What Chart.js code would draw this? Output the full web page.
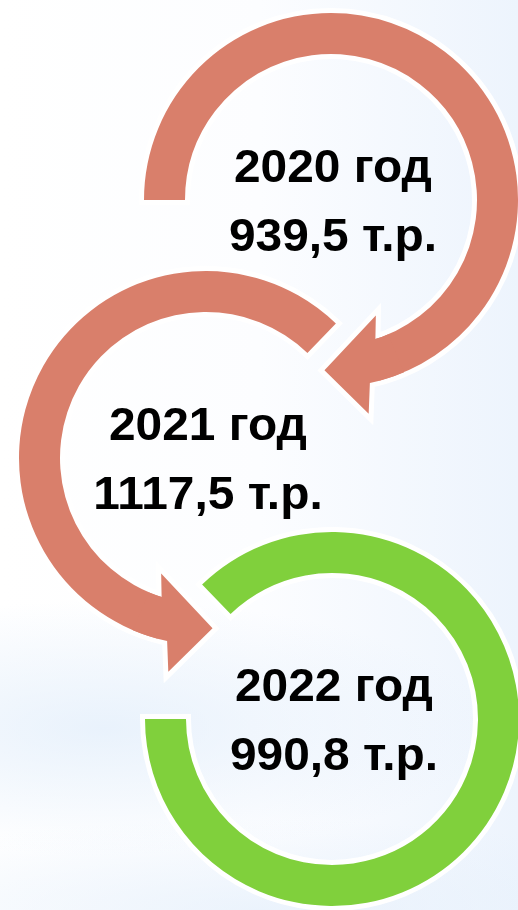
<!DOCTYPE html>
<html>
<head>
<meta charset="utf-8">
<script src="https://cdn.jsdelivr.net/npm/chart.js@4.4.1/dist/chart.umd.min.js"></script>
<style>
  html, body { margin: 0; padding: 0; }
  body {
    width: 518px; height: 910px; position: relative; overflow: hidden;
    background:
      radial-gradient(ellipse 75% 14% at 20% 80%, rgba(226,238,251,0.75), rgba(255,255,255,0) 100%),
      radial-gradient(ellipse 90% 10% at 50% 100%, rgba(228,239,251,0.7), rgba(255,255,255,0) 100%),
      linear-gradient(90deg, #ffffff 0%, #fcfdff 50%, #edf4fd 100%);
    font-family: "Liberation Sans", Arial, sans-serif;
  }
  canvas { position: absolute; left: 0; top: 0; }
  .label {
    position: absolute; width: 320px; text-align: center;
    font-weight: bold; font-size: 46px; line-height: 69px; color: #000;
    white-space: nowrap; transform: scaleX(1.04); transform-origin: 50% 50%;
  }
</style>
</head>
<body>
<canvas id="ring0" width="518" height="910"></canvas>
<canvas id="ring1" width="518" height="910"></canvas>
<canvas id="ring2" width="518" height="910"></canvas>
<script>
const years = ['2020 год', '2021 год', '2022 год'];
const amounts = [939.5, 1117.5, 990.8];
const unit = 'т.р.';

// where each ring sits on the page and which way it turns
const rings = [
  { cx: 331, cy: 200, rotation: 270, sweep: 255, color: '#D97F6B', arrow: 'end' },
  { cx: 206, cy: 458, rotation: 195, sweep: 209, color: '#D97F6B', arrow: 'start' },
  { cx: 332, cy: 719, rotation: 316, sweep: 314, color: '#80D03C', arrow: null }
];
const outerR = 187;
const innerR = 146;

const rad = d => d * Math.PI / 180;

function headPoints(el, at) {
  const s = at === 'end' ? 1 : -1;
  const base = at === 'end' ? el.endAngle : el.startAngle;
  const ri = el.innerRadius, ro = el.outerRadius;
  const p = (r, d) => [el.x + r * Math.cos(base + s * rad(d)), el.y + r * Math.sin(base + s * rad(d))];
  return {
    s: s, base: base, ri: ri, ro: ro,
    barbIn: p(ri - 22, -6.2),
    tip: p((ri + ro) / 2 + 4, 17.2),
    barbOut: p(ro + 30, 5)
  };
}

function outlinePath(ctx, el, at) {
  ctx.beginPath();
  if (!at) {
    ctx.arc(el.x, el.y, el.outerRadius, el.startAngle, el.endAngle);
    ctx.arc(el.x, el.y, el.innerRadius, el.endAngle, el.startAngle, true);
    ctx.closePath();
    return;
  }
  const h = headPoints(el, at);
  const other = at === 'end' ? el.startAngle : el.endAngle;
  ctx.arc(el.x, el.y, h.ro, other, h.base + h.s * rad(3), h.s < 0);
  ctx.lineTo(h.barbOut[0], h.barbOut[1]);
  ctx.lineTo(h.tip[0], h.tip[1]);
  ctx.lineTo(h.barbIn[0], h.barbIn[1]);
  ctx.arc(el.x, el.y, h.ri, h.base - h.s * rad(2.7), other, h.s > 0);
  ctx.closePath();
}

const ringDecor = {
  id: 'ringDecor',
  beforeDatasetsDraw(chart, args, opts) {
    const el = chart.getDatasetMeta(0).data[0];
    const ctx = chart.ctx;
    ctx.save();
    outlinePath(ctx, el, opts.arrow);
    ctx.lineWidth = 10;
    ctx.lineJoin = 'miter';
    ctx.strokeStyle = '#ffffff';
    ctx.stroke();
    ctx.restore();
  },
  afterDatasetsDraw(chart, args, opts) {
    if (!opts.arrow) return;
    const el = chart.getDatasetMeta(0).data[0];
    const h = headPoints(el, opts.arrow);
    const ctx = chart.ctx;
    ctx.save();
    ctx.beginPath();
    ctx.arc(el.x, el.y, h.ri, h.base - h.s * rad(8), h.base - h.s * rad(2.7), h.s < 0);
    ctx.lineTo(h.barbIn[0], h.barbIn[1]);
    ctx.lineTo(h.tip[0], h.tip[1]);
    ctx.lineTo(h.barbOut[0], h.barbOut[1]);
    ctx.arc(el.x, el.y, h.ro, h.base + h.s * rad(3), h.base - h.s * rad(8), h.s > 0);
    ctx.closePath();
    ctx.fillStyle = opts.color;
    ctx.fill();
    ctx.restore();
  }
};

rings.forEach(function (ring, i) {
  const chart = new Chart(document.getElementById('ring' + i), {
    type: 'doughnut',
    data: {
      labels: [years[i]],
      datasets: [{
        data: [amounts[i]],
        backgroundColor: ring.color,
        borderWidth: 0,
        clip: false
      }]
    },
    options: {
      responsive: false,
      animation: false,
      events: [],
      rotation: ring.rotation,
      circumference: ring.sweep,
      radius: outerR,
      cutout: (innerR / outerR * 100) + '%',
      layout: { padding: 0 },
      plugins: {
        legend: { display: false },
        tooltip: { enabled: false },
        ringDecor: { arrow: ring.arrow, color: ring.color }
      }
    },
    plugins: [ringDecor]
  });

  // slide the chart area so the ring centre lands where it belongs
  const el = chart.getDatasetMeta(0).data[0];
  const dx = ring.cx - el.x, dy = ring.cy - el.y;
  chart.options.layout.padding = {
    left: Math.max(0, 2 * dx), right: Math.max(0, -2 * dx),
    top: Math.max(0, 2 * dy), bottom: Math.max(0, -2 * dy)
  };
  chart.update();

  const label = document.createElement('div');
  label.className = 'label';
  label.style.left = (ring.cx + 2 - 160) + 'px';
  label.style.top = (ring.cy - 68) + 'px';
  label.innerHTML = years[i] + '<br>' + amounts[i].toFixed(1).replace('.', ',') + ' ' + unit;
  document.body.appendChild(label);
});
</script>
</body>
</html>
